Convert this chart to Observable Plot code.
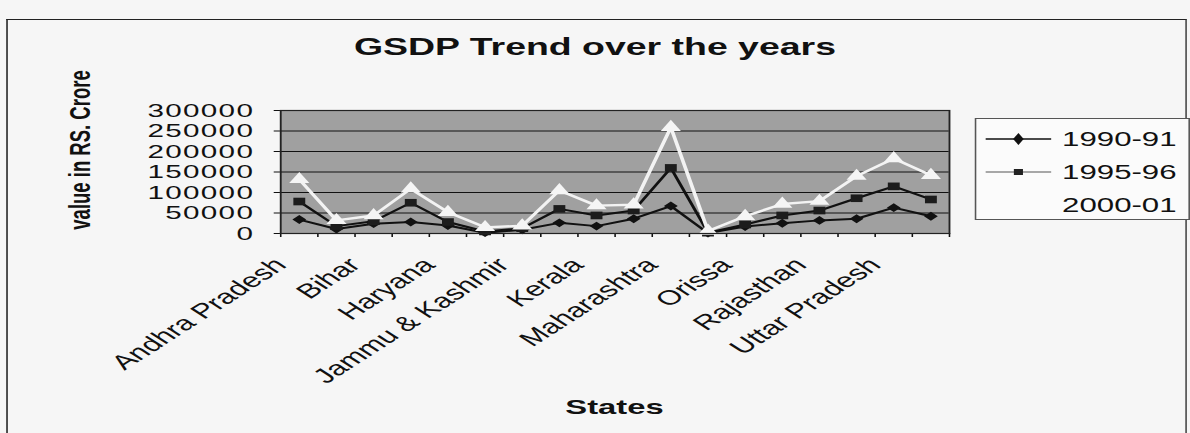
<!DOCTYPE html>
<html><head><meta charset="utf-8">
<script src="https://cdn.jsdelivr.net/npm/d3@7"></script>
<script src="https://cdn.jsdelivr.net/npm/@observablehq/plot@0.6"></script>
<style>
html,body{margin:0;padding:0;background:#f6f6f6;overflow:hidden;width:1190px;height:433px;}
#wrap{position:absolute;left:0;top:0;width:763px;height:433px;transform:scaleX(1.5596);transform-origin:0 0;font-family:"Liberation Sans",Arial,sans-serif;color:#111;}
#frame{position:absolute;left:4px;top:19px;width:755px;height:430px;border-left:1.2px solid #222;border-top:1.6px solid #222;border-right:1px solid #444;}
#title{position:absolute;left:0;width:763px;top:35px;text-align:center;font-weight:bold;font-size:24px;line-height:1;}
#xlabel{position:absolute;left:294px;width:200px;top:396px;text-align:center;font-weight:bold;font-size:21px;line-height:1;}
#ylabel{position:absolute;left:52px;top:150px;width:0;height:0;}
#ylabel span{position:absolute;white-space:nowrap;font-weight:bold;font-size:18.5px;line-height:1;transform:translate(-50%,-50%) rotate(-90deg);left:0;top:0;}
#legend{position:absolute;left:625px;top:118px;width:136px;height:100px;border:1px solid #555;background:#fbfbfb;}
.row{position:absolute;left:0;height:24px;width:136px;}
.row svg{position:absolute;left:3px;top:0;}
.row span{position:absolute;left:55px;top:2px;font-size:20px;line-height:1;}
#chart{position:absolute;left:0;top:0;}
</style></head><body>
<div id="wrap">
  <div id="frame"></div>
  <div id="title">GSDP Trend over the years</div>
  <div id="chart"></div>
  <div id="ylabel"><span>value in RS. Crore</span></div>
  <div id="xlabel">States</div>
  <div id="legend"></div>
</div>
<script>
const states = ["Andhra Pradesh","Assam","Bihar","Gujarat","Haryana","Himachal Pradesh","Jammu & Kashmir","Karnataka","Kerala","Madhya Pradesh","Maharashtra","Meghalaya","Orissa","Punjab","Rajasthan","Tamil Nadu","Uttar Pradesh","West Bengal"];
const gsdp1990 = [34000,11000,24000,28000,19500,2000,9000,26000,18000,36000,67000,1000,17000,25000,32000,36000,63000,42000];
const gsdp1995 = [78000,18000,30000,75000,28000,5000,13000,60000,44000,56000,160000,2000,22000,44000,56000,86000,115000,83000];
const gsdp2000 = [132000,32000,44000,109000,52000,15000,19000,105000,68000,70000,259000,6000,42000,72000,79000,140000,183000,142000];
const seriesNames = ["1990-91","1995-96","2000-01"];
const yTicks = [0,50000,100000,150000,200000,250000,300000];

const seriesValues = [gsdp1990, gsdp1995, gsdp2000];
const rows = seriesNames.map((name, s) => seriesValues[s].map((v, i) => ({series: name, i, state: states[i], value: v})));
const cx = d => d.i + 0.5;

const styles = [
  {stroke: "#111", strokeWidth: 2, symbol: "diamond2", r: 4, fill: "#111"},
  {stroke: "#111", strokeWidth: 2, symbol: "square", r: 4.3, fill: "#1c1c1c"},
  {stroke: "#f3f3f3", strokeWidth: 2.4, symbol: "triangle", r: 4.8, fill: "#f5f5f5"}
];

const marks = [
  Plot.frame({fill: "#a0a0a0"}),
  Plot.ruleY(yTicks.slice(1), {stroke: "#111", strokeWidth: 1.2}),
  Plot.axisY({ticks: yTicks, tickFormat: d3.format("d"), tickSize: 4, tickPadding: 13, label: null, fontSize: 19}),
  Plot.axisX({ticks: d3.range(0, states.length + 1), tickFormat: () => "", tickSize: 4, label: null}),
  Plot.axisX({ticks: states.map((s, i) => i + 0.5).filter((_, i) => i % 2 === 0), tickFormat: v => states[Math.floor(v)], tickRotate: -45, tickSize: 0, tickPadding: 28, dx: -12, label: null})
];
rows.forEach((data, s) => {
  const st = styles[s];
  marks.push(Plot.lineY(data, {x: cx, y: "value", stroke: st.stroke, strokeWidth: st.strokeWidth}));
  marks.push(Plot.dot(data, {x: cx, y: "value", symbol: st.symbol, r: st.r, fill: st.fill, stroke: "none"}));
});
marks.push(Plot.frame({stroke: "#222", strokeWidth: 1.2}));

const chart = Plot.plot({
  width: 763, height: 433,
  marginTop: 110, marginBottom: 200, marginLeft: 179.5, marginRight: 154.7,
  style: {background: "transparent", fontFamily: "'Liberation Sans', Arial, sans-serif", fontSize: "20.5px", color: "#111"},
  x: {type: "linear", domain: [0, states.length]},
  y: {type: "linear", domain: [0, 300000]},
  marks
});
chart.querySelectorAll('[aria-label="y-axis tick label"] text').forEach(t => {
  t.style.fontSize = "19px";
  t.style.letterSpacing = "0.85px";
});
document.getElementById("chart").appendChild(chart);

// legend
const legend = document.getElementById("legend");
const legendSym = [
  {stroke: "#111", width: 1.6, type: d3.symbolDiamond, size: 40, fill: "#111"},
  {stroke: "#555", width: 1, type: d3.symbolSquare, size: 34, fill: "#222"},
  {stroke: "#fbfbfb", width: 1, type: d3.symbolTriangle, size: 40, fill: "#fbfbfb"}
];
seriesNames.forEach((name, s) => {
  const row = document.createElement("div");
  row.className = "row";
  row.style.top = (8 + s * 33) + "px";
  const L = legendSym[s];
  const svg = d3.create("svg").attr("width", 48).attr("height", 24);
  svg.append("line").attr("x1", 3).attr("x2", 45).attr("y1", 12).attr("y2", 12).attr("stroke", L.stroke).attr("stroke-width", L.width);
  svg.append("path").attr("transform", "translate(24,12)").attr("d", d3.symbol(L.type, L.size)()).attr("fill", L.fill);
  row.appendChild(svg.node());
  const sp = document.createElement("span");
  sp.textContent = name;
  row.appendChild(sp);
  legend.appendChild(row);
});
</script>
</body></html>
